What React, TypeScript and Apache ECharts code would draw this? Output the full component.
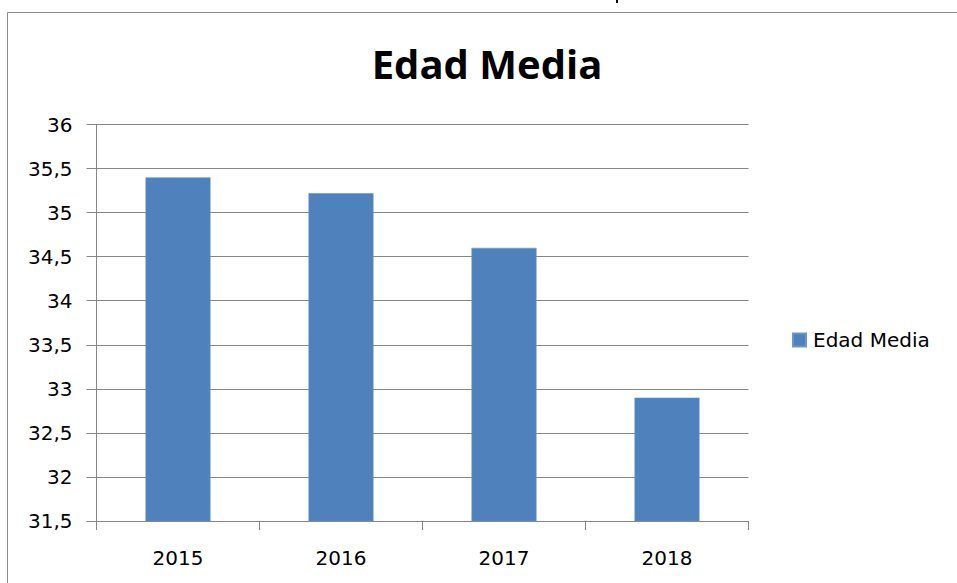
import React, { useEffect, useRef } from "react";
import * as echarts from "echarts";

const categories = ["2015", "2016", "2017", "2018"];
const seriesName = "Edad Media";
const values = [35.4, 35.22, 34.6, 32.9];
const yMin = 31.5;
const yMax = 36;
const yStep = 0.5;
const titleText = "Edad Media";

const GRAY = "#868686";
const LABEL_FONT = "DejaVu Sans";

export default function App() {
  const ref = useRef<HTMLDivElement>(null);
  useEffect(() => {
    if (!ref.current) return;
    const chart = echarts.init(ref.current, undefined, { renderer: "svg" });
    chart.setOption({
      animation: false,
      backgroundColor: "#ffffff",
      graphic: [
        {
          type: "rect",
          z: -10,
          shape: { x: 7.5, y: 12.5, width: 2000, height: 2000 },
          style: { fill: "none", stroke: "#8c8c8c", lineWidth: 1 },
        },
        {
          type: "rect",
          shape: { x: 616, y: 0, width: 2, height: 3 },
          style: { fill: "#000000" },
        },
        {
          type: "text",
          x: 487,
          y: 63,
          style: {
            text: titleText,
            align: "center",
            verticalAlign: "middle",
            fontFamily: "Open Sans",
            fontWeight: 700,
            fontSize: 40,
            fill: "#000000",
          },
        },
      ],
      legend: {
        show: true,
        left: 787,
        top: 325,
        itemWidth: 13,
        itemHeight: 13,
        icon: "rect",
        data: [seriesName],
        textStyle: {
          fontFamily: LABEL_FONT,
          fontSize: 20,
          color: "#000000",
          padding: [0, 0, 0, 2],
        },
      },
      grid: { left: 96.5, top: 124.5, width: 652, height: 396.5, containLabel: false },
      xAxis: {
        type: "category",
        data: categories,
        axisLine: { show: true, lineStyle: { color: GRAY, width: 1 } },
        axisTick: { show: true, length: 9, lineStyle: { color: GRAY, width: 1 } },
        axisLabel: {
          margin: 27,
          fontFamily: LABEL_FONT,
          fontSize: 20,
          color: "#000000",
        },
        splitLine: { show: false },
      },
      yAxis: {
        type: "value",
        min: yMin,
        max: yMax,
        interval: yStep,
        axisLine: { show: true, lineStyle: { color: GRAY, width: 1 } },
        axisTick: { show: true, length: 10, lineStyle: { color: GRAY, width: 1 } },
        axisLabel: {
          margin: 24,
          fontFamily: LABEL_FONT,
          fontSize: 20,
          color: "#000000",
          formatter: (v: number) => String(Math.round(v * 10) / 10).replace(".", ","),
        },
        splitLine: { show: true, lineStyle: { color: GRAY, width: 1 } },
      },
      series: [
        {
          name: seriesName,
          type: "bar",
          data: values,
          barWidth: 65,
          itemStyle: { color: "#4F81BD", borderColor: "#6a96cc", borderWidth: 0.6 },
        },
      ],
    });
    return () => chart.dispose();
  }, []);
  return (
    <div
      ref={ref}
      style={{ position: "fixed", left: 0, top: 0, width: 957, height: 583, background: "#fff" }}
    />
  );
}
